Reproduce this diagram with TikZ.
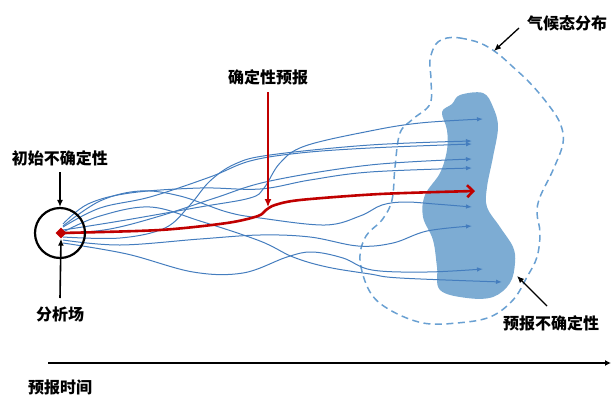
\documentclass[tikz,border=0pt]{standalone}
\usepackage{fontspec}
\setmainfont{Noto Sans CJK SC}
\usetikzlibrary{arrows.meta,shapes.geometric}
\definecolor{traj}{RGB}{68,125,190}
\definecolor{blob}{RGB}{125,172,211}
\definecolor{clim}{RGB}{105,160,210}
\definecolor{fred}{RGB}{192,0,0}
\tikzset{
  lbl/.style={font=\fontsize{16}{18}\selectfont\bfseries, inner sep=1pt},
  traj/.style={draw=traj, line width=1pt, -{Latex[length=6pt,width=4.5pt]}},
  blk/.style={draw=black, line width=1.6pt, -{Latex[length=7pt,width=6pt]}},
}
\begin{document}
\begin{tikzpicture}[x=1pt,y=-1pt]
\useasboundingbox (0,0) rectangle (611,397);
% forecast uncertainty blob
\fill[blob] plot[smooth cycle, tension=0.6] coordinates {(460,95) (483,93) (493,107) (498,127) (493,157) (487,187) (487,207) (500,227) (513,247) (515,263) (510,283) (493,297) (467,298) (440,290) (437,267) (433,240) (423,217) (425,195) (440,173) (447,150) (447,130) (442,112) (452,104)};
% climatological distribution
\draw[clim, line width=1.5pt, dash pattern=on 7pt off 4.5pt] plot[smooth cycle, tension=0.6] coordinates {(447,38) (460,38) (480,43) (497,53) (513,67) (530,83) (547,103) (560,123) (563,143) (553,170) (540,197) (537,213) (540,233) (537,257) (527,277) (513,300) (490,317) (457,323) (423,323) (390,310) (370,292) (360,260) (366,236) (382,220) (392,200) (395,167) (400,133) (413,119) (430,104) (431,80) (430,60) (436,44)};
% ensemble trajectories
\draw[traj] plot[smooth, tension=0.6] coordinates {(63,230) (120,221) (200,207) (250,198) (264,188) (280,163) (305,146) (370,131) (420,123) (483,119)};
\draw[traj] plot[smooth, tension=0.6] coordinates {(63,237) (120,238) (165,228) (190,205) (210,181) (235,164) (270,155) (370,145) (472,141)};
\draw[traj] plot[smooth, tension=0.6] coordinates {(63,227) (100,208) (150,197) (210,177) (250,161) (300,153) (370,148) (472,144)};
\draw[traj] plot[smooth, tension=0.6] coordinates {(63,234) (110,229) (160,216) (215,198) (270,181) (370,165) (472,159)};
\draw[traj] plot[smooth, tension=0.6] coordinates {(63,224) (88,204) (130,193) (200,188) (260,189) (310,180) (370,172) (472,168)};
\draw[traj] plot[smooth, tension=0.6] coordinates {(63,226) (100,201) (140,191) (180,196) (227,212) (260,218) (325,225) (360,216) (382,205) (405,202) (435,204) (472,207)};
\draw[traj] plot[smooth, tension=0.6] coordinates {(63,240) (120,245) (200,239) (260,235) (310,237) (358,246) (393,243) (427,231) (472,226)};
\draw[traj] plot[smooth, tension=0.6] coordinates {(63,243) (127,254) (193,272) (243,273) (287,257) (312,252) (343,258) (372,270) (427,272) (483,269)};
\draw[traj] plot[smooth, tension=0.6] coordinates {(63,232) (100,216) (150,207) (200,221) (260,241) (293,257) (327,267) (370,274) (400,278) (502,282)};
% deterministic forecast
\draw[fred, line width=2.6pt, line cap=round, -{Straight Barb[length=6pt,width=12pt]}] plot[smooth, tension=0.5] coordinates {(61,233) (160,230) (227,223) (258,216) (266,210) (275,205) (300,200) (380,194) (475,191)};
% initial uncertainty circle and analysis
\node[circle, draw=black, line width=2.2pt, minimum size=50pt, inner sep=0pt] (ic) at (60,233) {};
\node[diamond, fill=fred, minimum size=11pt, inner sep=0pt] (an) at (61,233) {};
% labels
\node[lbl] (tic) at (60,158) {初始不确定性};
\node[lbl] (tan) at (60,314) {分析场};
\node[lbl] (tdf) at (268,77) {确定性预报};
\node[lbl] (tcl) at (567,23) {气候态分布};
\node[lbl] (tfu) at (551,323) {预报不确定性};
\node[lbl] (tft) at (60,387) {预报时间};
\coordinate (icin) at (60,172);
\coordinate (anin) at (60,298);
\coordinate (dfst) at (268,92);
\coordinate (dfend) at (268,207);
\coordinate (clst) at (519,28);
\coordinate (clend) at (494,51);
\coordinate (fust) at (547,306);
\coordinate (fuend) at (517,276);
\coordinate (ax0) at (48,363);
\coordinate (ax1) at (611,363);
\draw[blk] (icin) -- (ic.north);
\draw[blk] (anin) -- (an.south);
\draw[fred, line width=1.3pt, -{Latex[length=8pt,width=7pt]}] (dfst) -- (dfend);
\draw[blk, line width=1.3pt] (clst) -- (clend);
\draw[blk, line width=1.3pt] (fust) -- (fuend);
\draw[black, line width=1.8pt, -{Latex[length=6pt,width=6pt]}] (ax0) -- (ax1);
\end{tikzpicture}
\end{document}
